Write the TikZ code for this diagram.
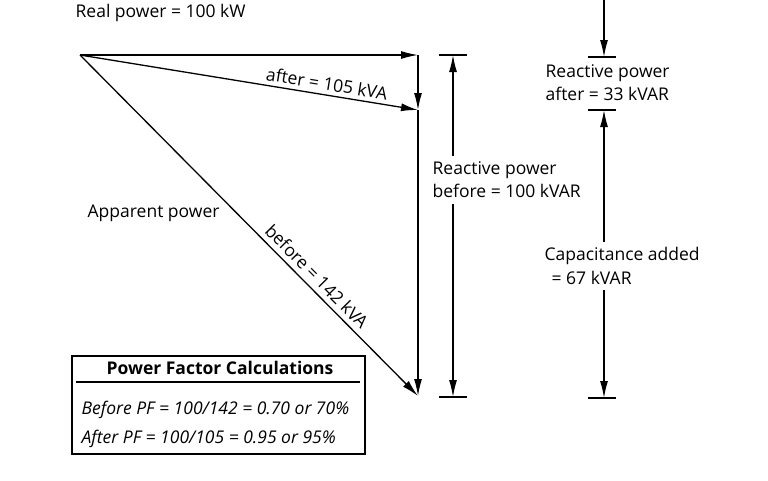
\documentclass[tikz,border=0pt]{standalone}
\usepackage{fontspec}
\setmainfont{Open Sans}
\usetikzlibrary{arrows.meta,positioning}

\begin{document}
\begin{tikzpicture}[
        x=1pt, y=-1pt,
        line width=1.3pt,
        vec/.style={-{Latex[length=17pt,width=8pt]}},
        dimline/.style={-{Latex[length=17pt,width=8pt]}, shorten <=5pt},
        dimtick/.style={line width=1.5pt},
        lbl/.style={font=\fontsize{17.5}{23.5}\selectfont, inner sep=0pt, align=left},
        calcline/.style={lbl, font=\fontsize{17.5}{23.5}\selectfont\itshape, anchor=west}
    ]
        \useasboundingbox (0,0) rectangle (768,480);

        % the power triangle
        \coordinate (origin) at (80,55);
        \coordinate (realend) at (418,55);
        \coordinate (afterend) at (418,110);
        \coordinate (beforeend) at (418,396);

        \draw[vec] (origin) -- (realend);
        \draw[vec] (realend) -- (afterend);
        \draw[vec] (afterend) -- (beforeend);
        \draw[vec] (origin) -- node[lbl, sloped, above=4pt, pos=0.725] {after = 105 kVA} (afterend);
        \draw[vec] (origin) -- node[lbl, sloped, above=5pt, pos=0.675] {before = 142 kVA} (beforeend);

        \node[lbl, anchor=west] (real) at (75,13) {Real power = 100 kW};
        \node[lbl, anchor=west] (apparent) at (87,213) {Apparent power};

        % reactive power before
        \coordinate (bdtop) at (453,55);
        \coordinate (bdbot) at (453,397);
        \draw[dimtick] (439,55) -- (467,55);
        \draw[dimtick] (439,397) -- (467,397);
        \node[lbl, anchor=north west] (bdlabel) at (432,161) {Reactive power\\before = 100 kVAR};
        \draw[dimline] (bdlabel.north -| bdtop) -- (bdtop);
        \draw[dimline] (bdlabel.south -| bdtop) -- (bdbot);

        % reactive power after and capacitance added
        \coordinate (adin) at (604,0);
        \coordinate (adtop) at (604,57);
        \coordinate (admid) at (604,110);
        \coordinate (adbot) at (604,398);
        \draw[dimtick] (588,57) -- (616,57);
        \draw[dimtick] (588,110) -- (616,110);
        \draw[dimtick] (588,398) -- (616,398);
        \draw[vec] (adin) -- (adtop);
        \node[lbl, anchor=north west] (adlabel) at (545,64) {Reactive power\\after = 33 kVAR};
        \node[lbl, anchor=north west] (caplabel) at (544,247) {Capacitance added\\\hspace*{0.4em}= 67 kVAR};
        \draw[dimline] (caplabel.north -| admid) -- (admid);
        \draw[dimline] (caplabel.south -| adbot) -- (adbot);

        % calculation box
        \node[draw, line width=1.8pt, minimum width=293pt, minimum height=98pt, inner sep=0pt, anchor=north west] (calcbox) at (71,355) {};
        \node[lbl, font=\fontsize{17.5}{20}\selectfont\bfseries] (calctitle) at (220,368) {Power Factor Calculations};
        \draw (76,382) -- (360,382);
        \node[calcline] (pfbefore) at (81,410) {Before PF = 100/142 = 0.70 or 70\%};
        \node[calcline] (pfafter) at (81,439) {After PF = 100/105 = 0.95 or 95\%};
    \end{tikzpicture}
\end{document}
